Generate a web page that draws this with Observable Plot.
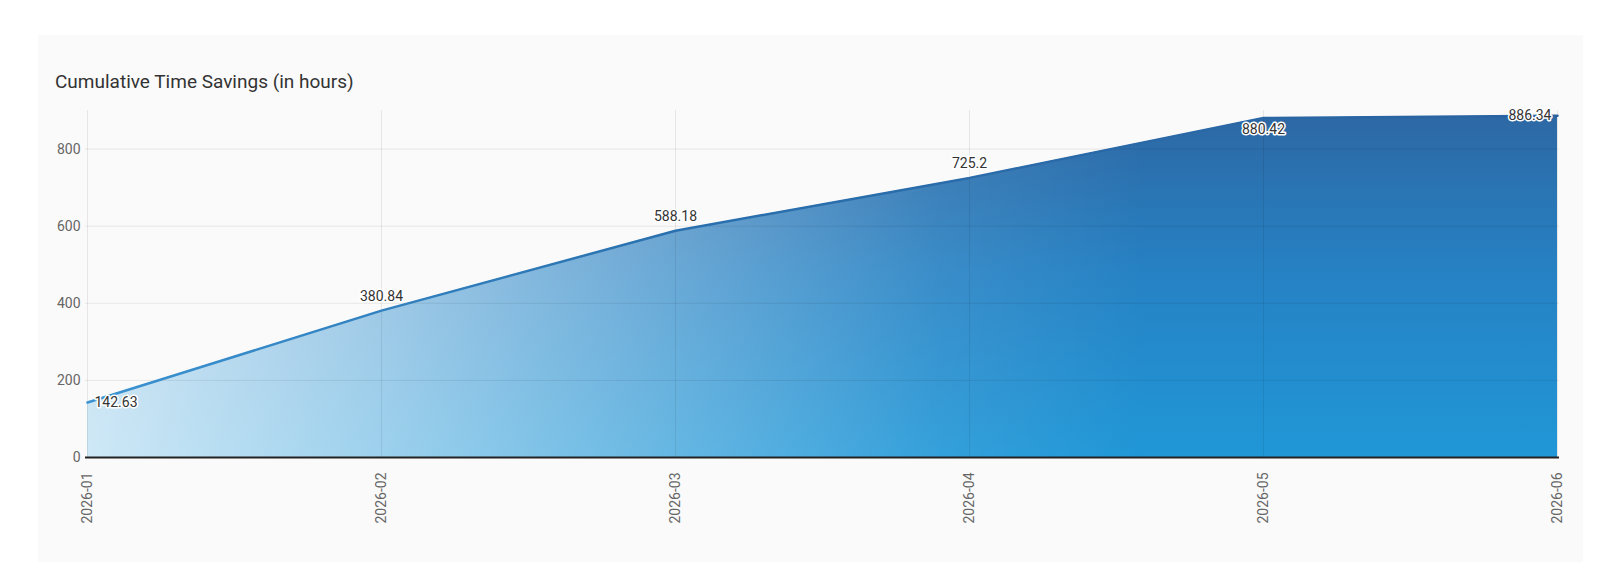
<!DOCTYPE html>
<html><head><meta charset="utf-8">
<script src="https://cdn.jsdelivr.net/npm/d3@7"></script>
<script src="https://cdn.jsdelivr.net/npm/@observablehq/plot@0.6"></script>
<style>
html,body{margin:0;padding:0;background:#fff;width:1600px;height:580px;overflow:hidden;font-family:Roboto,sans-serif}
#card{position:absolute;left:38px;top:35px;width:1545px;height:527px;background:#fafafa}
#title{position:absolute;left:17px;top:37px;font-size:19px;line-height:1;color:#333;white-space:nowrap}
#chart{position:absolute;left:0;top:65px}
</style></head>
<body>
<div id="card"><div id="title">Cumulative Time Savings (in hours)</div><div id="chart"></div></div>
<script>
const months = ["2026-01","2026-02","2026-03","2026-04","2026-05","2026-06"];
const values = [142.63, 380.84, 588.18, 725.2, 880.42, 886.34];
const yTicks = [0, 200, 400, 600, 800];
const yDomain = [0, 900];

const data = months.map((m, i) => ({month: m, value: values[i], i}));
const last = data.length - 1;

const defs = () => {
  const d = d3.create("svg:defs");
  const v = d.append("linearGradient").attr("id","gV").attr("x1",0).attr("y1",0).attr("x2",0).attr("y2",1);
  [[0,"#2d68a4"],[0.45,"#2681c3"],[1,"#2097d7"]].forEach(([o,c]) => v.append("stop").attr("offset",o).attr("stop-color",c));
  const w = d.append("linearGradient").attr("id","gW").attr("x1",0).attr("y1",0).attr("x2",1).attr("y2",0);
  [[0,0.78],[0.2,0.56],[0.4,0.31],[0.58,0.09],[0.72,0]].forEach(([o,a]) => w.append("stop").attr("offset",o).attr("stop-color","#fff").attr("stop-opacity",a));
  const l = d.append("linearGradient").attr("id","gL").attr("x1",0).attr("y1",0).attr("x2",1).attr("y2",0);
  [[0,"#3b93d1"],[0.4,"#2a70ae"],[1,"#2a62a0"]].forEach(([o,c]) => l.append("stop").attr("offset",o).attr("stop-color",c));
  return d.node();
};

const labelStyle = {x: "month", y: "value", text: d => String(d.value), fill: "#333", stroke: "white", strokeWidth: 3, paintOrder: "stroke", strokeLinejoin: "round", fontSize: 14};

const chart = Plot.plot({
  width: 1545, height: 462,
  marginLeft: 47, marginRight: 24, marginTop: 10, marginBottom: 105,
  style: {background: "transparent", fontFamily: "Roboto, sans-serif", fontSize: "14px", overflow: "visible"},
  x: {type: "point", domain: months, padding: 0, label: null},
  y: {domain: yDomain, label: null},
  marks: [
    defs,
    Plot.areaY(data, {x: "month", y: "value", fill: "url(#gV)"}),
    Plot.areaY(data, {x: "month", y: "value", fill: "url(#gW)"}),
    Plot.gridX({stroke: "#000", strokeOpacity: 0.08}),
    Plot.gridY({ticks: yTicks, stroke: "#000", strokeOpacity: 0.08}),
    Plot.ruleY([0], {stroke: "#222", strokeWidth: 2}),
    Plot.lineY(data, {x: "month", y: "value", stroke: "url(#gL)", strokeWidth: 2.5}),
    Plot.axisY({ticks: yTicks, tickSize: 0, tickPadding: 5, fill: "#666", fontSize: 14, label: null}),
    Plot.axisX({tickRotate: -90, tickSize: 0, tickPadding: 15, fill: "#666", fontSize: 14, label: null}),
    Plot.text(data, {...labelStyle, filter: d => d.i === 0, textAnchor: "start", dx: 7}),
    Plot.text(data, {...labelStyle, filter: d => d.i === last, textAnchor: "end", dx: -6}),
    Plot.text(data, {...labelStyle, filter: d => d.i > 0 && d.i < last && d.value < 850, dy: -14}),
    Plot.text(data, {...labelStyle, filter: d => d.i > 0 && d.i < last && d.value >= 850, dy: 11})
  ]
});
document.getElementById("chart").appendChild(chart);
</script>
</body></html>
